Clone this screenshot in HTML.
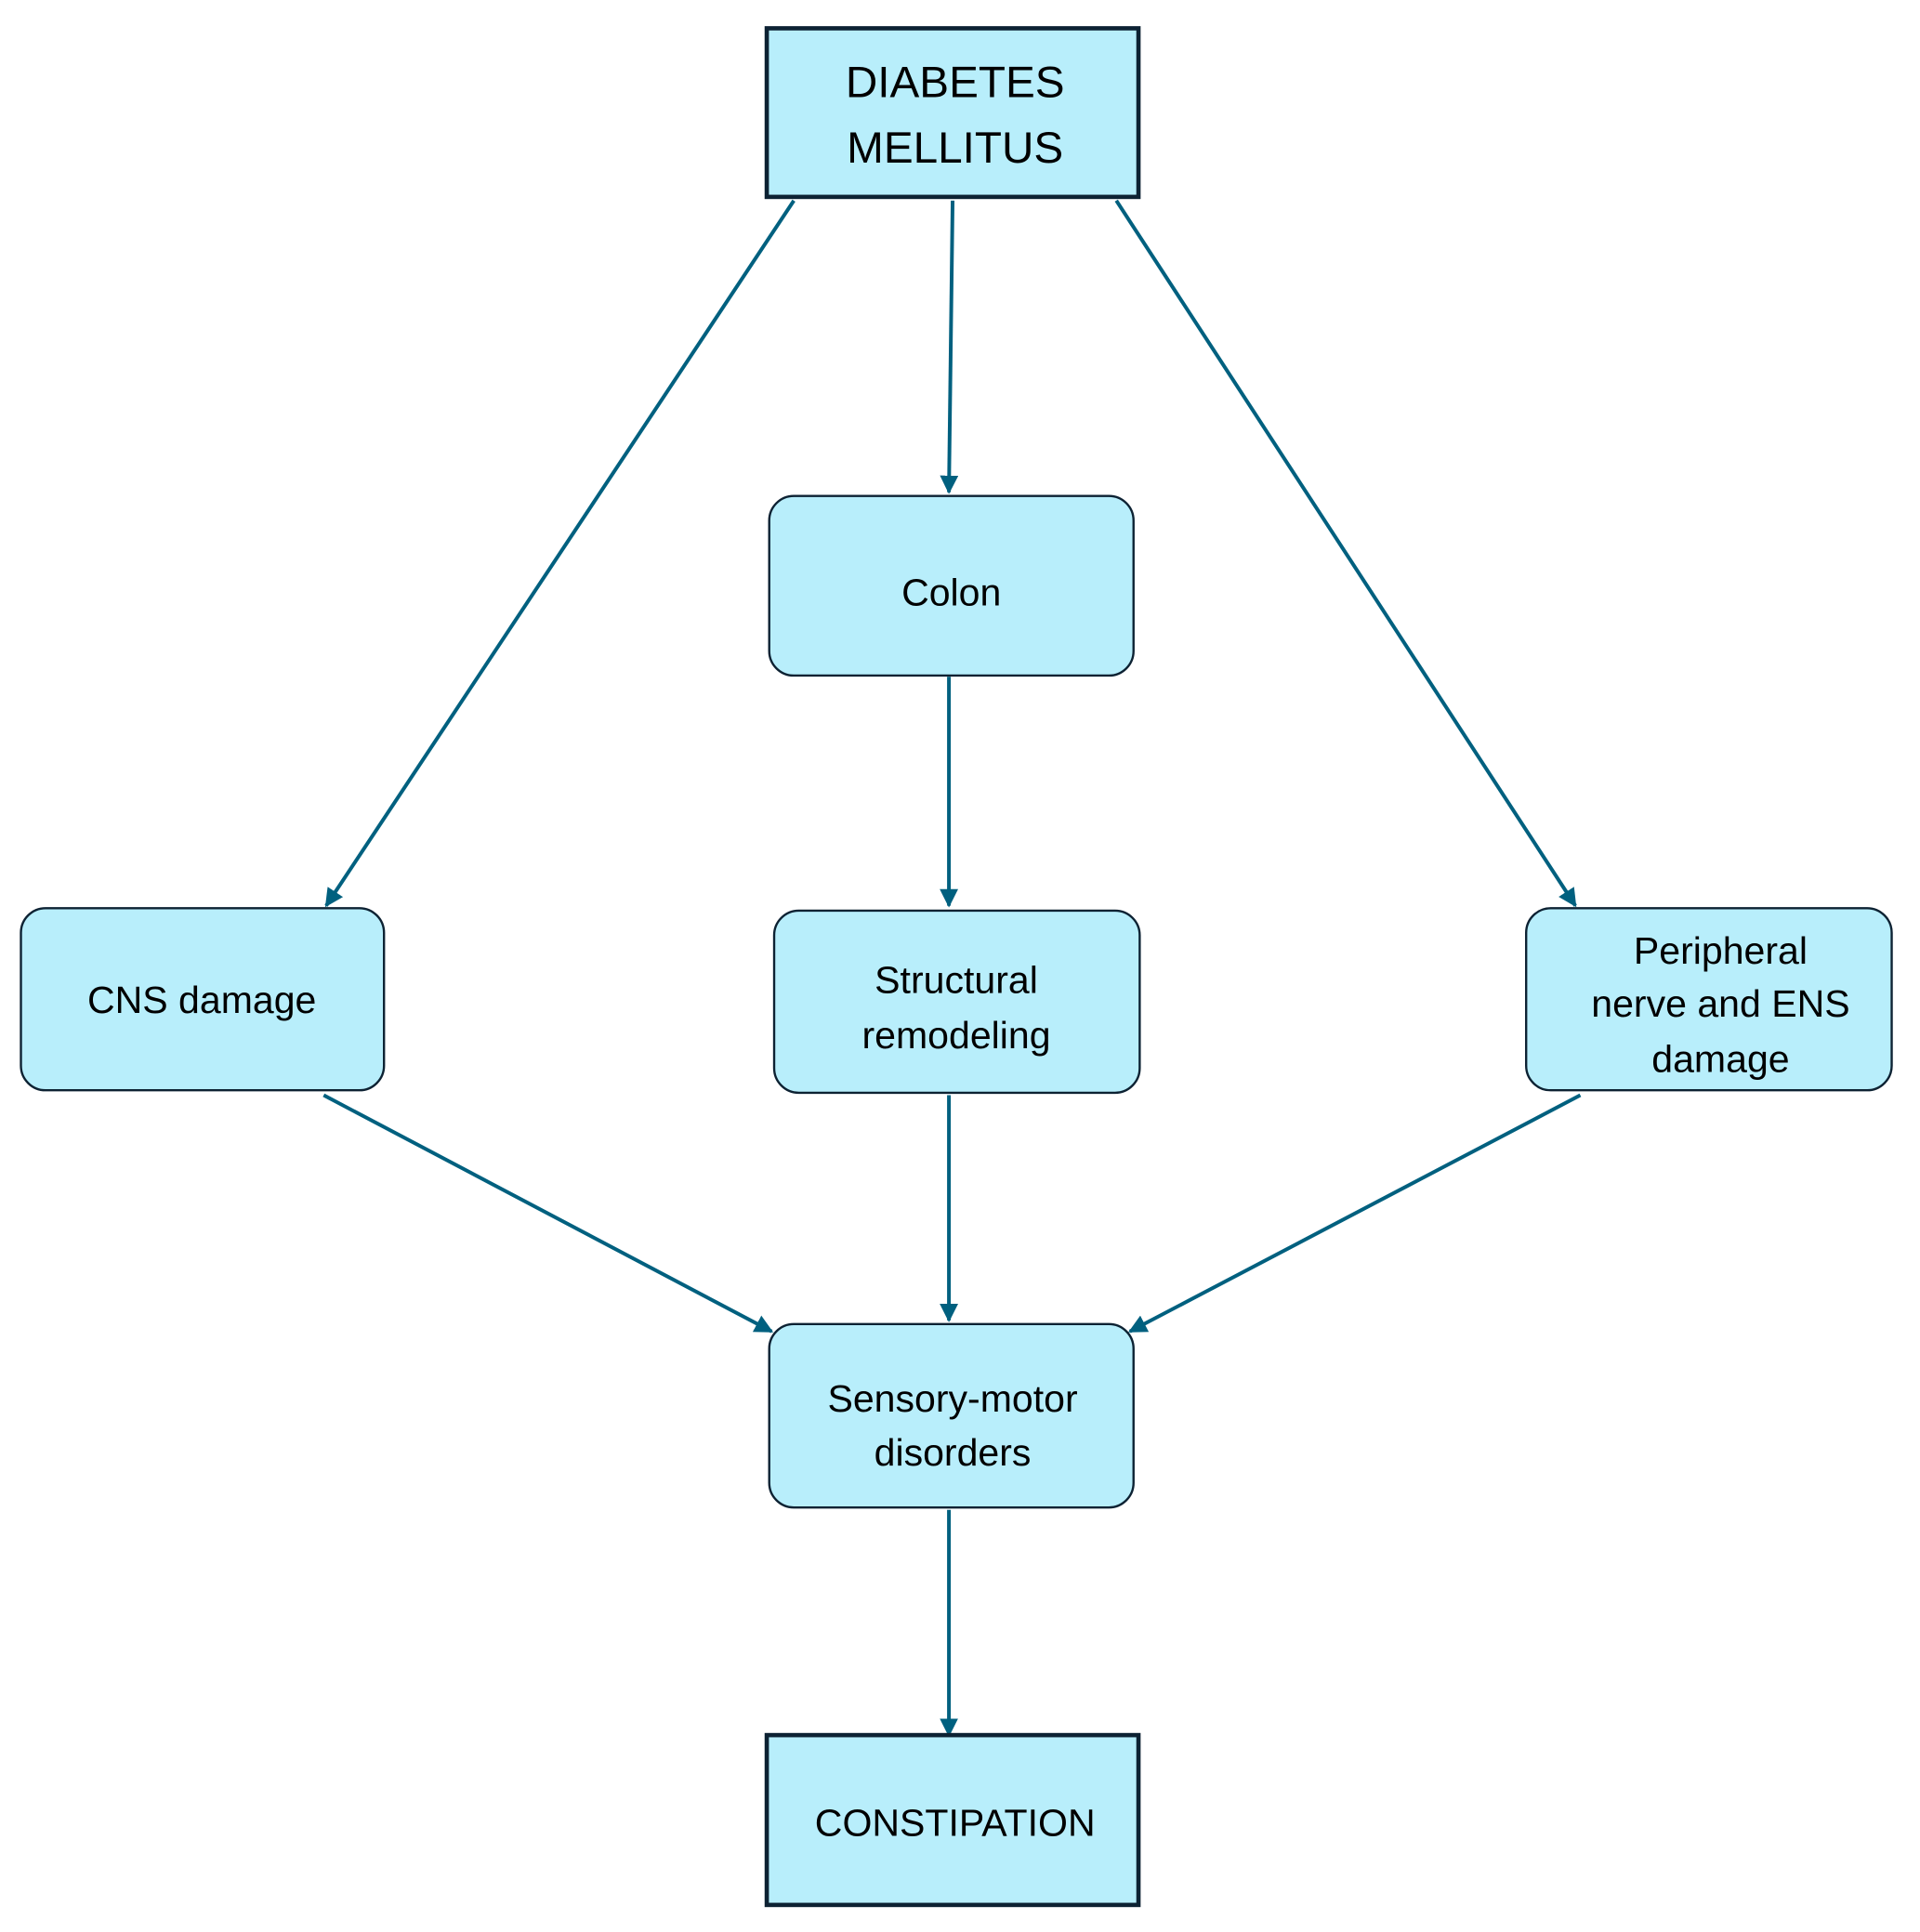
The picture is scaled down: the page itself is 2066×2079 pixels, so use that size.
<!DOCTYPE html>
<html><head><meta charset="utf-8"><style>
html,body{margin:0;padding:0;background:#fff;}
svg{display:block;}
text{font-family:"Liberation Sans",sans-serif;fill:#000;}
</style></head><body>
<svg width="2066" height="2079" viewBox="0 0 1560 1570" preserveAspectRatio="none" xmlns="http://www.w3.org/2000/svg">
<defs>
<marker id="a" viewBox="0 0 10 10" refX="9" refY="5" markerWidth="5" markerHeight="5" orient="auto" markerUnits="strokeWidth">
<path d="M0,0 L10,5 L0,10 z" fill="#00607f"/></marker>
</defs>
<g stroke="#00607f" stroke-width="3" fill="none" marker-end="url(#a)">
<line x1="645" y1="163" x2="265" y2="736"/>
<line x1="774" y1="163" x2="771" y2="400"/>
<line x1="907" y1="163" x2="1280" y2="736"/>
<line x1="771" y1="550" x2="771" y2="736"/>
<line x1="263" y1="890" x2="627" y2="1082"/>
<line x1="771" y1="890" x2="771" y2="1073"/>
<line x1="1284" y1="890" x2="918" y2="1082"/>
<line x1="771" y1="1227" x2="771" y2="1410"/>
</g>
<g fill="#b8eefb" stroke="#0d2233">
<rect x="623" y="23" width="302" height="137" stroke-width="3.5"/>
<rect x="623" y="1410" width="302" height="138" stroke-width="3.5"/>
<rect x="625" y="403" width="296" height="146" rx="20" stroke-width="1.8"/>
<rect x="17" y="738" width="295" height="148" rx="20" stroke-width="1.8"/>
<rect x="629" y="740" width="297" height="148" rx="20" stroke-width="1.8"/>
<rect x="1240" y="738" width="297" height="148" rx="20" stroke-width="1.8"/>
<rect x="625" y="1076" width="296" height="149" rx="20" stroke-width="1.8"/>
</g>
<g text-anchor="middle" font-size="31">
<text x="776" y="79" font-size="36">DIABETES</text>
<text x="776" y="132" font-size="36">MELLITUS</text>
<text x="773" y="492">Colon</text>
<text x="164" y="823">CNS damage</text>
<text x="777" y="807">Structural</text>
<text x="777" y="852">remodeling</text>
<text x="1398" y="783">Peripheral</text>
<text x="1398" y="826">nerve and ENS</text>
<text x="1398" y="871">damage</text>
<text x="774" y="1147">Sensory-motor</text>
<text x="774" y="1191">disorders</text>
<text x="776" y="1492">CONSTIPATION</text>
</g>
</svg>
</body></html>
